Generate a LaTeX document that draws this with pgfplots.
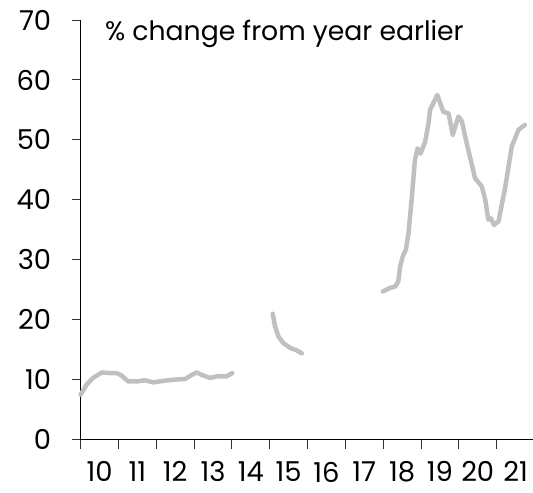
\documentclass[border=0pt]{standalone}
\usepackage{fontspec}
\setmainfont{Poppins}
\usepackage{pgfplots}
\pgfplotsset{compat=1.18}
\definecolor{seriesgray}{RGB}{192,192,192}

\begin{document}
\begin{tikzpicture}
\begin{axis}[
  scale only axis, width=452.3bp, height=420bp,
  xmin=2010, xmax=2021.95, ymin=0, ymax=70,
  axis x line*=bottom, axis y line*=left,
  axis line style={black, line width=0.9bp},
  xtick={2010,...,2021}, xticklabels={},
  extra x ticks={2010.5,2011.5,2012.5,2013.5,2014.5,2015.5,2016.5,2017.5,2018.5,2019.5,2020.5,2021.5},
  extra x tick labels={10,11,12,13,14,15,16,17,18,19,20,21},
  extra x tick style={major tick length=0pt, xticklabel style={yshift=-21bp, inner sep=1bp}},
  ytick={0,10,...,70},
  tick align=outside, major tick length=9bp,
  tick style={black!80, line width=0.9bp},
  tick label style={font=\fontsize{27.5}{32}\selectfont},
  yticklabel style={xshift=-17bp},
  /pgf/number format/assume math mode=true,
  unbounded coords=jump,
  clip=false,
]
\addplot[seriesgray, line width=4.5bp, line join=round, line cap=round] table {
x y
2010.00 7.5
2010.16 9.2
2010.33 10.3
2010.56 11.2
2010.78 11.1
2010.95 11.1
2011.08 10.7
2011.26 9.7
2011.48 9.7
2011.70 9.9
2011.92 9.55
2012.19 9.8
2012.45 10.0
2012.76 10.1
2012.94 10.8
2013.07 11.2
2013.24 10.7
2013.42 10.3
2013.60 10.55
2013.86 10.55
2014.01 11.1
2014.50 nan
2015.08 21.0
2015.14 18.9
2015.23 17.2
2015.36 16.1
2015.54 15.3
2015.71 14.9
2015.85 14.4
2017.00 nan
2017.99 24.7
2018.18 25.3
2018.32 25.55
2018.40 26.4
2018.45 28.9
2018.52 30.6
2018.60 31.7
2018.67 34.4
2018.76 40.6
2018.84 46.7
2018.91 48.6
2018.99 47.7
2019.11 49.7
2019.20 52.8
2019.24 55.0
2019.43 57.5
2019.59 54.7
2019.73 54.4
2019.84 50.8
2019.99 53.9
2020.08 53.1
2020.21 49.4
2020.43 43.6
2020.61 42.2
2020.70 40.0
2020.78 36.7
2020.85 36.9
2020.93 35.8
2021.05 36.4
2021.23 42.2
2021.40 48.9
2021.58 51.7
2021.75 52.5
};
\node[anchor=base west, font=\fontsize{26.8}{32}\selectfont, inner sep=0pt]
  at (axis cs:2010.64,66.5) {\% change from year earlier};
\end{axis}
\path[use as bounding box] (current axis.south west) ++(-80.7bp,-53bp) rectangle ++(533bp,493bp);
\end{tikzpicture}
\end{document}
